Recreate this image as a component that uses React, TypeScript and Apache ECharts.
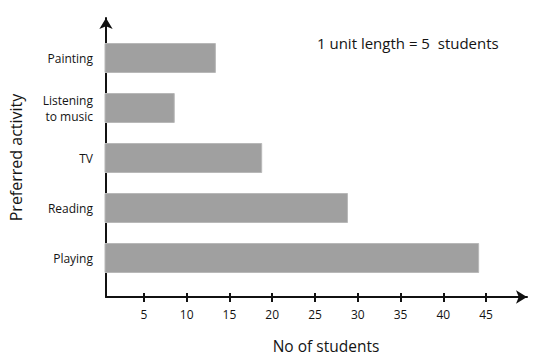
import React, { useEffect, useRef } from "react";
import * as echarts from "echarts";

const categories = ["Painting", "Listening\nto music", "TV", "Reading", "Playing"];
const students = [13.5, 8.7, 18.9, 28.9, 44.2];
const tickValues = [5, 10, 15, 20, 25, 30, 35, 40, 45];
const xTitle = "No of students";
const yTitle = "Preferred activity";
const note = "1 unit length = 5  students";

const FONT = "'Open Sans', 'Noto Sans', sans-serif";
const TEXT = "#141414";
const X_MIN = 0.57;
const X_MAX = 49.78;

export default function App() {
  const ref = useRef<HTMLDivElement>(null);
  useEffect(() => {
    if (!ref.current) return;
    const chart = echarts.init(ref.current, undefined, { renderer: "svg" });
    const axisColor = "#111";
    chart.setOption({
      animation: false,
      backgroundColor: "#fff",
      title: {
        text: note,
        left: 312,
        top: 30,
        textStyle: { fontFamily: FONT, fontSize: 15, fontWeight: "normal", color: TEXT },
      },
      grid: [
        { left: 105, right: 14, top: 33, bottom: 78 },
        { left: 105, right: 14, top: 18, bottom: 64 },
      ],
      xAxis: [
        {
          type: "value",
          gridIndex: 0,
          min: X_MIN,
          max: X_MAX,
          show: false,
        },
        {
          type: "value",
          gridIndex: 1,
          min: X_MIN,
          max: X_MAX,
          position: "bottom",
          name: xTitle,
          nameLocation: "middle",
          nameGap: 41,
          nameTextStyle: { fontFamily: FONT, fontSize: 15.5, color: TEXT, padding: [0, 0, 0, 19] },
          axisLine: {
            show: true,
            lineStyle: { color: axisColor, width: 2 },
            symbol: ["none", "arrow"],
            symbolSize: [10, 11],
          },
          axisTick: {
            show: true,
            inside: false,
            length: 5,
            customValues: tickValues,
            lineStyle: { color: axisColor, width: 2 },
          },
          axisLabel: {
            show: true,
            customValues: tickValues,
            margin: 11,
            fontFamily: FONT,
            fontSize: 12,
            color: TEXT,
          },
          splitLine: { show: false },
        },
        {
          type: "value",
          gridIndex: 1,
          min: X_MIN,
          max: X_MAX,
          position: "bottom",
          axisLine: { show: false },
          axisTick: {
            show: true,
            inside: true,
            length: 4,
            customValues: tickValues,
            lineStyle: { color: axisColor, width: 2 },
          },
          axisLabel: { show: false },
          splitLine: { show: false },
        },
      ],
      yAxis: [
        {
          type: "category",
          gridIndex: 0,
          data: categories,
          inverse: true,
          axisLine: { show: false },
          axisTick: { show: false },
          axisLabel: {
            margin: 12,
            fontFamily: FONT,
            fontSize: 12,
            lineHeight: 16,
            color: TEXT,
          },
        },
        {
          type: "value",
          gridIndex: 1,
          min: 0,
          max: 1,
          name: yTitle,
          nameLocation: "middle",
          nameGap: 82,
          nameRotate: 90,
          nameTextStyle: { fontFamily: FONT, fontSize: 16, color: TEXT },
          axisLine: {
            show: true,
            lineStyle: { color: axisColor, width: 2 },
            symbol: ["none", "arrow"],
            symbolSize: [10, 11],
          },
          axisTick: { show: false },
          axisLabel: { show: false },
          splitLine: { show: false },
        },
      ],
      series: [
        {
          type: "bar",
          xAxisIndex: 0,
          yAxisIndex: 0,
          data: students,
          barWidth: 30,
          clip: true,
          itemStyle: { color: "#a0a0a0", borderColor: "#b8b8b8", borderWidth: 1 },
        },
      ],
    });
    return () => chart.dispose();
  }, []);
  return (
    <div
      ref={ref}
      style={{ position: "fixed", left: 0, top: 0, width: 541, height: 361, background: "#fff" }}
    />
  );
}
